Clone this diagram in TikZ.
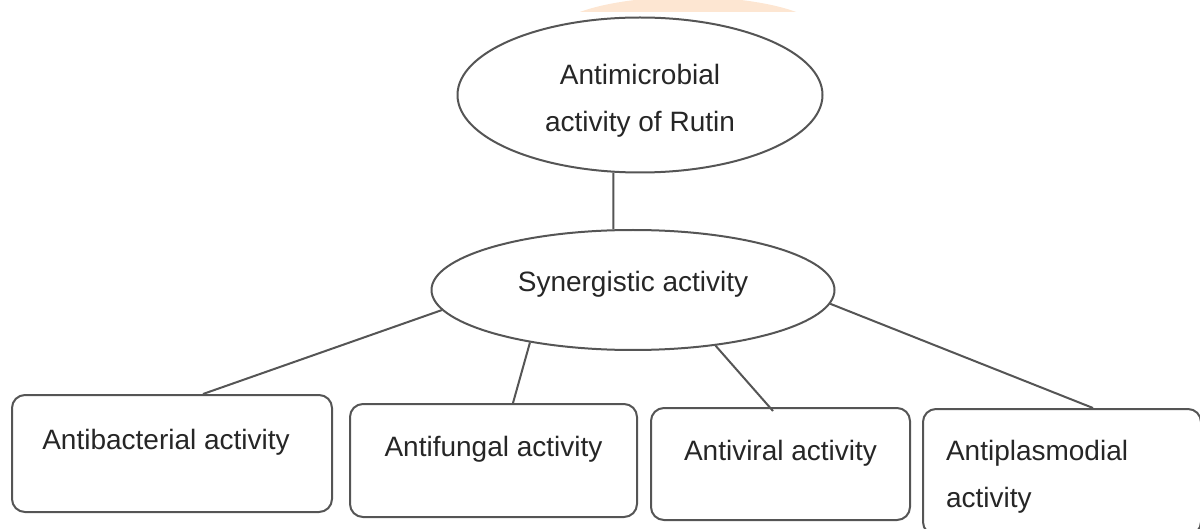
\documentclass[tikz,border=0pt]{standalone}
\usepackage{fontspec}
\setmainfont{Liberation Sans}
\usetikzlibrary{shapes.geometric}
\definecolor{linegray}{HTML}{555555}
\definecolor{watermark}{HTML}{FDE6D2}
\tikzset{
  oval/.style={ellipse,draw=linegray,line width=1pt,inner sep=0pt,align=center,text=black!85},
  card/.style={rectangle,rounded corners=6.5pt,draw=linegray,line width=1pt,inner sep=0pt,text=black!85,text height=10pt,text depth=14pt},
  link/.style={draw=linegray,line width=1pt}
}
\begin{document}
\begin{tikzpicture}[x=0.5pt,y=-0.5pt,font=\fontsize{14pt}{23.5pt}\selectfont]
\useasboundingbox (0,0) rectangle (1200,529);
\begin{scope}
\clip (0,0) rectangle (1200,12);
\fill[watermark] (688,35) ellipse (136 and 38);
\end{scope}
\node[oval,minimum width=182.5pt,minimum height=77.5pt] (rutin) at (640,95) {\rule{0pt}{16.4pt}Antimicrobial\\activity of Rutin};
\node[oval,minimum width=201.5pt,minimum height=60pt,text height=10pt,text depth=8pt] (syn) at (633,290) {Synergistic activity};
\node[card,minimum width=160pt,minimum height=58.5pt] (bact) at (172,453.5) {Antibacterial activity\hspace*{6pt}};
\node[card,minimum width=143.5pt,minimum height=56.5pt] (fung) at (493.5,460.5) {Antifungal activity};
\node[card,minimum width=129.5pt,minimum height=56pt] (vir) at (780.5,464) {Antiviral activity};
\node[card,anchor=north west,minimum width=139pt,minimum height=63pt,inner xsep=11.5pt,text width=116pt,align=left,text height=,text depth=] (plas) at (922,408) {\rule{0pt}{15.4pt}Antiplasmodial\\activity};
\draw[link] (rutin.251) -- (syn.108);
\draw[link] (syn.186) -- ([xshift=15.5pt]bact.north);
\draw[link] (syn.207) -- ([xshift=9.75pt]fung.north);
\draw[link] (syn.326) -- ([xshift=-3.75pt,yshift=-2pt]vir.north);
\draw[link] (syn.356) -- ([xshift=15.5pt]plas.north);
\end{tikzpicture}
\end{document}
